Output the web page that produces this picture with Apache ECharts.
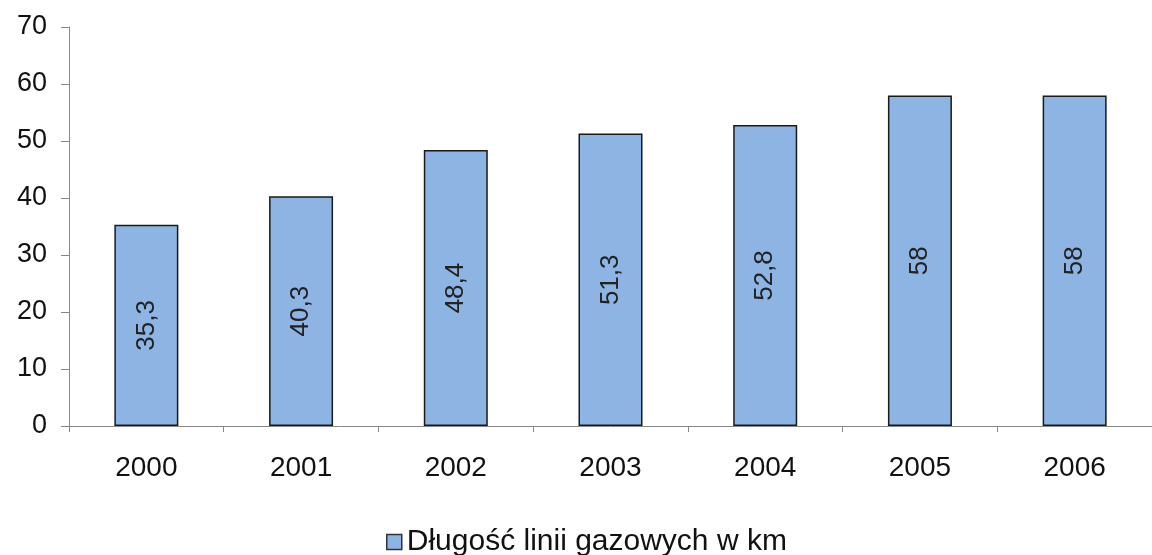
<!DOCTYPE html>
<html>
<head>
<meta charset="utf-8">
<script src="https://cdn.jsdelivr.net/npm/echarts@6/dist/echarts.min.js"></script>
<style>
  html, body { margin: 0; padding: 0; background: #fff; }
  #chart { width: 1152px; height: 555px; }
</style>
</head>
<body>
<div id="chart"></div>
<script>
// lata i długość linii gazowych (km)
const years = ['2000', '2001', '2002', '2003', '2004', '2005', '2006'];
const lengthKm = [35.3, 40.3, 48.4, 51.3, 52.8, 58, 58];
const seriesName = 'Długość linii gazowych w km';

const chart = echarts.init(document.getElementById('chart'));

chart.setOption({
    animation: false,
    textStyle: { fontFamily: 'Liberation Sans, Arial, sans-serif' },
    grid: { left: 69, top: 27, bottom: 129, width: 1092 },
    legend: {
        left: 386,
        top: 526,
        padding: 0,
        icon: 'rect',
        itemWidth: 15,
        itemHeight: 15,
        itemGap: 8,
        itemStyle: { borderColor: '#333', borderWidth: 1.5 },
        textStyle: { fontSize: 30, color: '#111', lineHeight: 32 },
        data: [seriesName]
    },
    xAxis: {
        type: 'category',
        data: years,
        axisLine: { lineStyle: { color: '#888', width: 1 } },
        axisTick: { show: true, length: 6, lineStyle: { color: '#888' } },
        axisLabel: { fontSize: 28, color: '#111', margin: 28 }
    },
    yAxis: {
        type: 'value',
        min: 0,
        max: 70,
        interval: 10,
        splitLine: { show: false },
        axisLine: { show: true, lineStyle: { color: '#888', width: 1 } },
        axisTick: { show: true, length: 8, lineStyle: { color: '#888' } },
        axisLabel: { fontSize: 27, color: '#111', margin: 22 }
    },
    series: [{
        name: seriesName,
        type: 'bar',
        data: lengthKm,
        barWidth: 64,
        itemStyle: { color: '#8db4e3', borderColor: '#1a1a1a', borderWidth: 1.5 },
        label: {
            show: true,
            position: 'inside',
            rotate: 90,
            fontSize: 26,
            color: '#222',
            formatter: p => String(p.value).replace('.', ',')
        }
    }]
});
</script>
</body>
</html>
